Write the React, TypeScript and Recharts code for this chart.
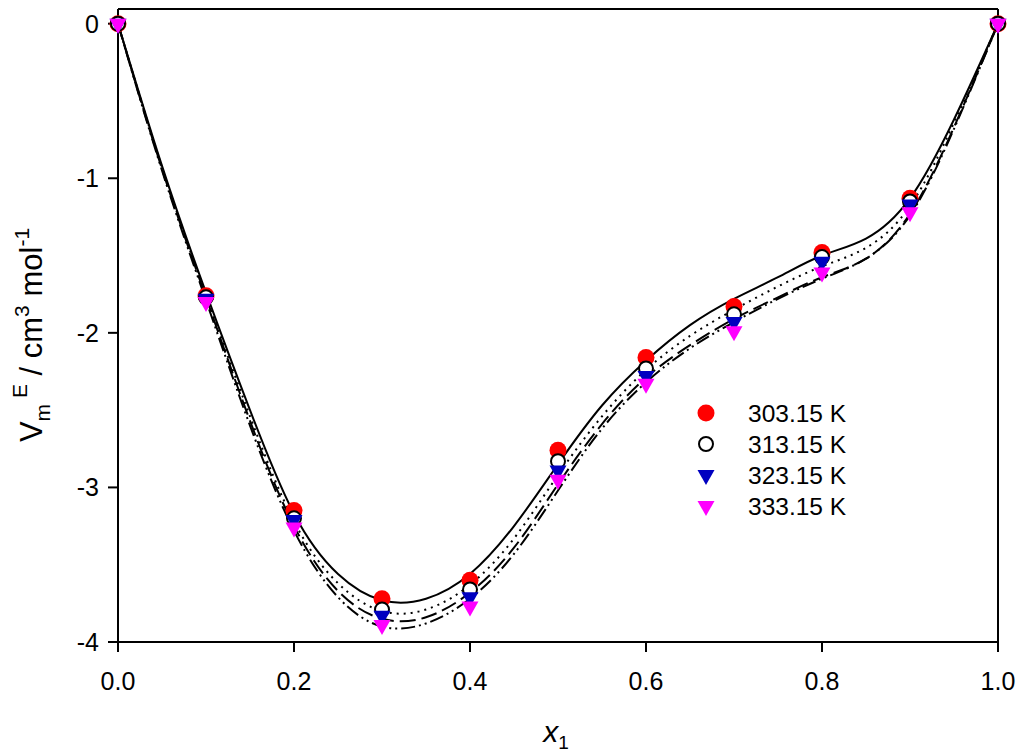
import { ComposedChart, Line, Scatter, XAxis, YAxis, ReferenceLine, Label } from "recharts";

// mole fraction grid for the fitted curves
const fitX = [0, 0.05, 0.1, 0.15, 0.2, 0.25, 0.3, 0.35, 0.4, 0.45, 0.5, 0.55, 0.6, 0.65, 0.7, 0.75, 0.8, 0.85, 0.9, 0.95, 1];
const fit303 = [0, -0.92, -1.74, -2.5, -3.17, -3.56, -3.73, -3.72, -3.56, -3.25, -2.85, -2.47, -2.18, -1.95, -1.78, -1.64, -1.5, -1.39, -1.13, -0.62, 0];
const fit313 = [0, -0.93, -1.76, -2.54, -3.22, -3.62, -3.8, -3.79, -3.63, -3.33, -2.92, -2.54, -2.24, -2.02, -1.85, -1.7, -1.57, -1.45, -1.18, -0.64, 0];
const fit323 = [0, -0.94, -1.77, -2.57, -3.25, -3.67, -3.85, -3.84, -3.68, -3.39, -2.98, -2.59, -2.29, -2.08, -1.91, -1.77, -1.64, -1.52, -1.23, -0.67, 0];
const fit333 = [0, -0.95, -1.79, -2.6, -3.28, -3.71, -3.9, -3.88, -3.72, -3.43, -3.02, -2.62, -2.32, -2.1, -1.93, -1.78, -1.65, -1.52, -1.24, -0.68, 0];

// experimental points
const expX = [0, 0.1, 0.2, 0.3, 0.4, 0.5, 0.6, 0.7, 0.8, 0.9, 1];
const exp303 = [0, -1.76, -3.15, -3.72, -3.6, -2.76, -2.16, -1.83, -1.48, -1.13, 0];
const exp313 = [0, -1.77, -3.2, -3.79, -3.66, -2.83, -2.23, -1.88, -1.51, -1.15, 0];
const exp323 = [0, -1.78, -3.21, -3.83, -3.71, -2.89, -2.28, -1.93, -1.54, -1.17, 0];
const exp333 = [0, -1.8, -3.26, -3.89, -3.77, -2.95, -2.33, -1.99, -1.61, -1.22, 0];

const xTicks = [0, 0.2, 0.4, 0.6, 0.8, 1];
const yTicks = [-4, -3, -2, -1, 0];
const legendLabels = ["303.15 K", "313.15 K", "323.15 K", "333.15 K"];

const FONT = "'Liberation Sans', Arial, sans-serif";
const pts = (xs: number[], ys: number[]) => xs.map((x, i) => ({ x, y: ys[i] }));

const RedDot = ({ cx, cy }: any) => <circle cx={cx} cy={cy} r={8.5} fill="#ff0000" />;
const OpenDot = ({ cx, cy }: any) => <circle cx={cx} cy={cy} r={7} fill="#fff" stroke="#000" strokeWidth={2} />;
const triangle = (color: string) => ({ cx, cy }: any) => (
  <path d={`M${cx - 8.5},${cy - 5} L${cx + 8.5},${cy - 5} L${cx},${cy + 10} Z`} fill={color} />
);

function YTitle() {
  const x = 42;
  const y = 335;
  return (
    <text x={x} y={y} transform={`rotate(-90 ${x} ${y})`} textAnchor="middle" fontFamily={FONT} fontSize={31} fill="#000">
      <tspan>V</tspan>
      <tspan fontSize={21} dy={8}>m</tspan>
      <tspan fontSize={21} dy={-23}> E</tspan>
      <tspan dy={15}> / cm</tspan>
      <tspan fontSize={21} dy={-13}>3</tspan>
      <tspan dy={13}> mol</tspan>
      <tspan fontSize={21} dy={-13}>-1</tspan>
    </text>
  );
}

function XTitle() {
  return (
    <text x={556} y={742} textAnchor="middle" fontFamily={FONT} fontSize={30} fill="#000">
      <tspan fontStyle="italic">x</tspan>
      <tspan fontSize={19} dy={7}>1</tspan>
    </text>
  );
}

export default function App() {
  const tick = { fill: "#000", fontSize: 25, fontFamily: FONT };
  const axisLine = { stroke: "#000", strokeWidth: 2 };
  const legendShapes = [
    <circle cx={16} cy={0} r={8.5} fill="#ff0000" />,
    <circle cx={16} cy={0} r={7} fill="#fff" stroke="#000" strokeWidth={2} />,
    <path d="M7.5,-5 L24.5,-5 L16,10 Z" fill="#0000c0" />,
    <path d="M7.5,-5 L24.5,-5 L16,10 Z" fill="#ff00ff" />,
  ];
  return (
    <div style={{ position: "absolute", left: 0, top: 0, width: 1024, height: 755, background: "#fff" }}>
      <ComposedChart width={1024} height={755} margin={{ top: 9, right: 26, bottom: 0, left: 0 }}>
        <XAxis
          dataKey="x"
          type="number"
          domain={[0, 1]}
          ticks={xTicks}
          tickFormatter={(v) => Number(v).toFixed(1)}
          height={113}
          tickSize={10}
          tickMargin={20}
          tick={tick}
          axisLine={axisLine}
          tickLine={axisLine}
          allowDuplicatedCategory={false}
        >
          <Label content={<XTitle />} />
        </XAxis>
        <YAxis
          type="number"
          domain={[-4, 0.095]}
          ticks={yTicks}
          width={118}
          tickSize={10}
          tickMargin={9}
          tick={tick}
          axisLine={axisLine}
          tickLine={axisLine}
        >
          <Label content={<YTitle />} />
        </YAxis>
        <ReferenceLine y={0.095} stroke="#000" strokeWidth={2} />
        <ReferenceLine x={1} stroke="#000" strokeWidth={2} />
        <Scatter data={pts(expX, exp303)} dataKey="y" shape={RedDot} isAnimationActive={false} />
        <Scatter data={pts(expX, exp313)} dataKey="y" shape={OpenDot} isAnimationActive={false} />
        <Scatter data={pts(expX, exp323)} dataKey="y" shape={triangle("#0000c0")} isAnimationActive={false} />
        <Scatter data={pts(expX, exp333)} dataKey="y" shape={triangle("#ff00ff")} isAnimationActive={false} />
        <Line data={pts(fitX, fit303)} dataKey="y" type="natural" stroke="#000" strokeWidth={2} dot={false} isAnimationActive={false} />
        <Line data={pts(fitX, fit313)} dataKey="y" type="natural" stroke="#000" strokeWidth={2} strokeDasharray="2 5" dot={false} isAnimationActive={false} />
        <Line data={pts(fitX, fit323)} dataKey="y" type="natural" stroke="#000" strokeWidth={2} strokeDasharray="16 6" dot={false} isAnimationActive={false} />
        <Line data={pts(fitX, fit333)} dataKey="y" type="natural" stroke="#000" strokeWidth={2} strokeDasharray="14 4 2 4 2 4" dot={false} isAnimationActive={false} />
      </ComposedChart>
      <svg style={{ position: "absolute", left: 690, top: 395 }} width={200} height={130}>
        {legendLabels.map((label, i) => (
          <g key={label} transform={`translate(0, ${18 + i * 31})`}>
            {legendShapes[i]}
            <text x={58} y={9} fontFamily={FONT} fontSize={24.5} fill="#000">{label}</text>
          </g>
        ))}
      </svg>
    </div>
  );
}
